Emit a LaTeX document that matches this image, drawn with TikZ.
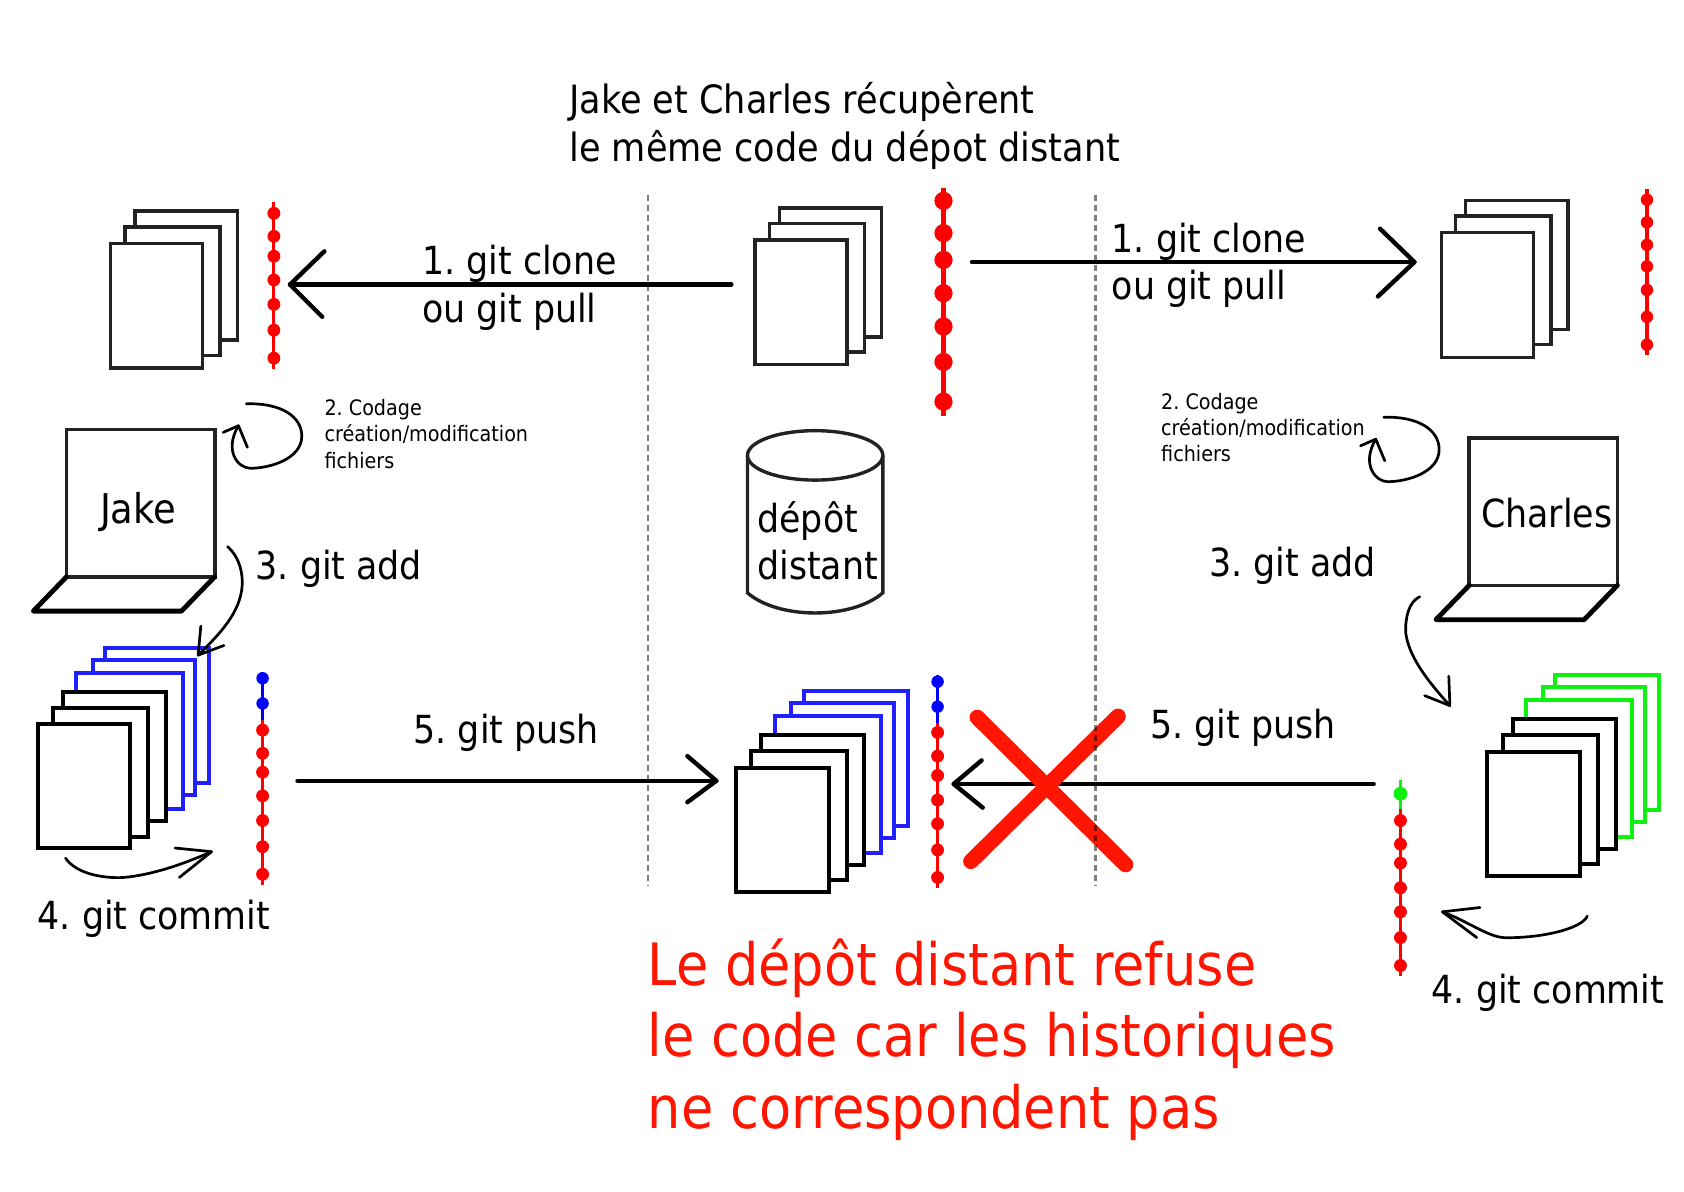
\documentclass[tikz,border=0pt]{standalone}
\usepackage{fontspec}
\setmainfont{DejaVu Sans Condensed}
\definecolor{sheetline}{HTML}{222222}
\definecolor{hred}{HTML}{FF0000}
\definecolor{hblue}{HTML}{0000FF}
\definecolor{sblue}{HTML}{2020FF}
\definecolor{hgreen}{HTML}{10F010}
\definecolor{crossred}{HTML}{FF1500}
\tikzset{
  sheet/.style={draw=sheetline,fill=white,line width=3.4pt,line join=miter},
  boldsheet/.style={draw=black,fill=white,line width=4pt,line join=miter},
  newsheet/.style={fill=white,line width=4pt,line join=miter},
  bigarrow/.style={draw=black,line width=4.4pt,line cap=round,line join=round},
  handarrow/.style={draw=black,line width=2.7pt,line cap=round,line join=round},
  screenbox/.style={draw=sheetline,fill=white,line width=3.6pt},
  lapbase/.style={draw=black,line width=4.8pt,line join=round,line cap=round},
  crossbar/.style={draw=crossred,line width=15.5pt,line cap=round},
  divider/.style={draw=black,opacity=.5,line width=2.1pt,dash pattern=on 6pt off 4pt},
  label/.style={inner sep=0pt,anchor=base west,align=left,font=\fontsize{38.7}{47.5}\selectfont\frenchspacing},
  bigtitle/.style={inner sep=0pt,anchor=base west,align=left,font=\fontsize{39}{47.5}\selectfont\frenchspacing},
  namelabel/.style={inner sep=0pt,anchor=base west,align=left,font=\fontsize{41}{47.5}\selectfont},
  smalllabel/.style={inner sep=0pt,anchor=base west,align=left,font=\fontsize{21.3}{26.4}\selectfont\frenchspacing},
  alert/.style={inner sep=0pt,anchor=base west,align=left,text=crossred,font=\fontsize{58.4}{71.8}\selectfont},
}
\newcommand{\threesheets}[2]{%
  \begin{scope}[shift={(#1,#2)}]
    \draw[sheet] (22.7,-30) rectangle ++(95.3,120);
    \draw[sheet] (13.4,-15.4) rectangle ++(88.6,119.6);
    \draw[sheet] (0,0) rectangle ++(85.6,116);
  \end{scope}}
\newcommand{\sixsheets}[3]{%
  \begin{scope}[shift={(#1,#2)}]
    \draw[newsheet,draw=#3] (62.8,-71.4) rectangle ++(97.2,125.8);
    \draw[newsheet,draw=#3] (51.3,-60) rectangle ++(95.7,125.7);
    \draw[newsheet,draw=#3] (35.8,-48) rectangle ++(99.2,127);
    \draw[boldsheet] (23.4,-30.4) rectangle ++(96,120.5);
    \draw[boldsheet] (14,-15.4) rectangle ++(89,120);
    \draw[boldsheet] (0,0) rectangle ++(86,115.6);
  \end{scope}}
\newcommand{\laptop}[2]{%
  \begin{scope}[shift={(#1,#2)}]
    \draw[screenbox] (0,0) rectangle (138,137);
    \draw[lapbase] (0,137) -- (-31,169) -- (107,169) -- (138,137);
  \end{scope}}
\begin{document}
\begin{tikzpicture}[x=1.07398pt,y=-1.07398pt]
\useasboundingbox (0,0) rectangle (1568,1109);

% named connector ends
\coordinate (cloneLstart) at (681,265);
\coordinate (cloneLtip) at (270,265);
\coordinate (cloneLa) at (302,234);
\coordinate (cloneLb) at (300,295);
\coordinate (cloneRstart) at (905,244);
\coordinate (cloneRtip) at (1317,244);
\coordinate (cloneRa) at (1285,213);
\coordinate (cloneRb) at (1283,276);
\coordinate (pushLstart) at (277,727);
\coordinate (pushLtip) at (667,727);
\coordinate (pushLa) at (640,704);
\coordinate (pushLb) at (640,747);
\coordinate (pushRstart) at (1279,730);
\coordinate (pushRtip) at (888,730);
\coordinate (pushRa) at (914,708);
\coordinate (pushRb) at (915,752);

% stacks of sheets
\threesheets{103}{226.6}
\threesheets{703}{223.6}
\threesheets{1342}{216.6}
\sixsheets{35}{674.4}{sblue}
\sixsheets{685.5}{715}{sblue}
\sixsheets{1385}{700}{hgreen}

% laptops
\laptop{62}{400}
\laptop{1368}{408}

% remote store
\path[fill=white] (696,424) -- (696,552) .. controls (725,577) and (793,577) .. (822,552) -- (822,424) -- cycle;
\draw[draw=sheetline,line width=3.4pt] (696,424) -- (696,552) .. controls (725,577) and (793,577) .. (822,552) -- (822,424);
\draw[draw=sheetline,fill=white,line width=3.4pt] (759,424) ellipse [x radius=63,y radius=23];

% histories
\draw[hred,line width=3.2pt] (255,188) -- (255,344);
\foreach \y in {198.6,220,238.6,260.7,283.4,307.4,333.5} \fill[hred] (255,\y) circle [radius=6];
\draw[hred,line width=4.4pt] (878.5,175) -- (878.5,387);
\foreach \y in {187,217,242,273,304,337,374} \fill[hred] (878.5,\y) circle [radius=8.5];
\draw[hred,line width=3.2pt] (1533.5,176) -- (1533.5,331);
\foreach \y in {186,207,228,248,270,295,321} \fill[hred] (1533.5,\y) circle [radius=5.8];

\draw[hblue,line width=3.2pt] (244.5,625.5) -- (244.5,670);
\draw[hred,line width=3.2pt] (244.5,670) -- (244.5,824);
\foreach \y in {631.5,655} \fill[hblue] (244.5,\y) circle [radius=5.8];
\foreach \y in {679.8,701.4,719,741,764,788.4,814} \fill[hred] (244.5,\y) circle [radius=6];

\draw[hblue,line width=3.2pt] (873,628.5) -- (873,673);
\draw[hred,line width=3.2pt] (873,673) -- (873,827);
\foreach \y in {634.7,658} \fill[hblue] (873,\y) circle [radius=5.8];
\foreach \y in {682,704,722,745,767,791.4,817} \fill[hred] (873,\y) circle [radius=6];

\draw[hgreen,line width=3.2pt] (1304,726) -- (1304,753);
\draw[hred,line width=3.2pt] (1304,753) -- (1304,909);
\fill[hgreen] (1304,739) circle [radius=6.4];
\foreach \y in {764,786,803.6,826.6,849,873,899} \fill[hred] (1304,\y) circle [radius=6];

% big arrows
\draw[bigarrow] (cloneLstart) -- (cloneLtip);
\draw[bigarrow] (cloneLa) -- (cloneLtip) -- (cloneLb);
\draw[bigarrow] (cloneRstart) -- (cloneRtip);
\draw[bigarrow] (cloneRa) -- (cloneRtip) -- (cloneRb);
\draw[bigarrow] (pushLstart) -- (pushLtip);
\draw[bigarrow] (pushLa) -- (pushLtip) -- (pushLb);
\draw[bigarrow] (pushRstart) -- (pushRtip);
\draw[bigarrow] (pushRa) -- (pushRtip) -- (pushRb);

% refusal cross
\draw[crossbar] (910,668) -- (1048,805);
\draw[crossbar] (1041,667) -- (904,802);

% dividers
\draw[divider] (603,182) -- (603,825);
\draw[divider] (1020,182) -- (1020,825);

% hand-drawn arrows
\draw[handarrow] (229.4,376) .. controls (262,375) and (281,388) .. (281,406) .. controls (281,427) and (252,436) .. (233,436) .. controls (222,436) and (208,420) .. (222,396.4);
\draw[handarrow] (207.8,402.6) -- (222,396.4) -- (230.4,416.5);
\begin{scope}[shift={(1059,12.5)}]
\draw[handarrow] (229.4,376) .. controls (262,375) and (281,388) .. (281,406) .. controls (281,427) and (252,436) .. (233,436) .. controls (222,436) and (208,420) .. (222,396.4);
\draw[handarrow] (207.8,402.6) -- (222,396.4) -- (230.4,416.5);
\end{scope}
\draw[handarrow] (212,509) .. controls (224,520) and (226,535) .. (225.5,545) .. controls (224,570) and (205,590) .. (184.5,610);
\draw[handarrow] (187,583) -- (184.5,610) -- (208.5,601);
\draw[handarrow] (1322,555.6) .. controls (1312,560) and (1308,575) .. (1309,590) .. controls (1312,612) and (1330,635) .. (1350,657);
\draw[handarrow] (1349,629.6) -- (1350,657) -- (1326.5,647.7);
\draw[handarrow] (61,799) .. controls (72,815) and (100,818) .. (115,817) .. controls (140,815) and (170,805) .. (197,793);
\draw[handarrow] (163,789.6) -- (197,793) -- (167,817);
\draw[handarrow] (1478,853) .. controls (1472,866) and (1430,874) .. (1400,873) .. controls (1385,872) and (1365,857) .. (1343,849);
\draw[handarrow] (1378,845) -- (1343,849) -- (1375,873);

% texts
\node[bigtitle] (title) at (530,150) {Jake et Charles récupèrent\\le même code du dépot distant};
\node[label] (cloneLlabel) at (393,300) {1. git clone\\ou git pull};
\node[label] (cloneRlabel) at (1035,279) {1. git clone\\ou git pull};
\node[smalllabel] (codeL) at (302,436) {2. Codage\\création/modification\\fichiers};
\node[smalllabel] (codeR) at (1081,430) {2. Codage\\création/modification\\fichiers};
\node[namelabel] (jake) at (93,487) {Jake};
\node[label] (charles) at (1379,491) {Charles};
\node[label] (addL) at (238,540) {3. git add};
\node[label] (addR) at (1126,537) {3. git add};
\node[label] (store) at (705,540) {dépôt\\distant};
\node[label] (pushL) at (385,692) {5. git push};
\node[label] (pushR) at (1071,688) {5. git push};
\node[label] (commitL) at (35,865) {4. git commit};
\node[label] (commitR) at (1333,934) {4. git commit};
\node[alert] (refusal) at (603,1051) {Le dépôt distant refuse\\le code car les historiques\\ne correspondent pas};
\end{tikzpicture}
\end{document}
